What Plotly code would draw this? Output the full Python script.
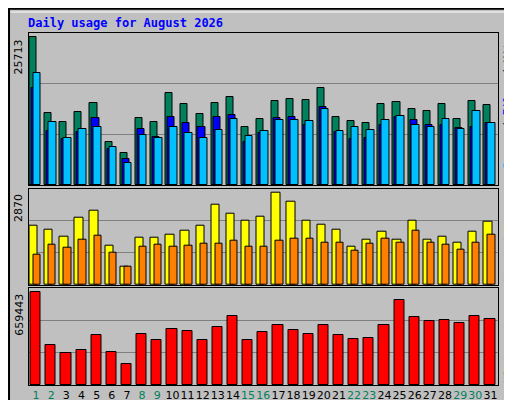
import plotly.graph_objects as go

days = list(range(1, 32))
hits = [25713,12624,11053,12798,14194,7562,5643,11751,11053,15939,14020,12449,14194,15241,10180,11576,
        14543,14892,14718,16812,11925,11227,10878,14020,14369,13321,12973,14020,11576,14543,13845]
files = [16869,9482,8086,9307,11751,6341,4596,9831,8435,11925,10878,10180,11925,12274,7562,9133,
         11751,11925,10529,13670,9307,8086,8260,10529,11925,11402,10529,10529,10006,10180,10878]
pages = [19430,11053,8260,9831,10180,6690,3898,8784,8260,10180,9133,8260,9656,11576,8609,9482,
         11402,11402,11227,13321,9482,10180,9656,11402,12100,10529,10180,11576,9831,12973,10878]
visits = [1841,1716,1498,2090,2309,1217,562,1466,1466,1560,1685,1841,2496,2215,1997,2122,
          2870,2590,1997,1872,1716,1186,1404,1654,1404,1997,1404,1498,1310,1654,1966]
sites = [936,1248,1154,1404,1529,998,562,1186,1248,1186,1217,1279,1279,1373,1186,1186,
         1373,1435,1435,1310,1310,1061,1279,1435,1310,1685,1310,1248,1092,1310,1560]
kbytes = [659443,282614,224642,246381,355079,231888,152177,362325,318846,398558,384065,318846,413051,492762,318846,376818,
          427544,391312,362325,427544,355079,326093,333339,427544,601470,485516,456530,463777,442037,492762,471023]
weekend = {1,2,8,9,15,16,22,23,29,30}
title = "Daily usage for August 2026"

FONT = "DejaVu Sans Mono"
GREEN, BLUE, CYAN = "#00805c", "#0000ff", "#00c0ff"
YEL, ORA, RED = "#ffff00", "#ff8000", "#ff0000"
BG = "#c0c0c0"

fig = go.Figure()
line = dict(color="black", width=1)

def bar(y, color, off, w, ax):
    fig.add_trace(go.Bar(x=days, y=y, marker=dict(color=color, line=line), offset=off, width=w,
                         xaxis="x" + ax, yaxis="y" + ax, showlegend=False, hoverinfo="skip"))

bar(hits, GREEN, -0.44, 0.47, "")
bar(files, BLUE, -0.31, 0.47, "")
bar(pages, CYAN, -0.18, 0.5, "")
bar(visits, YEL, -0.44, 0.55, "2")
bar(sites, ORA, -0.17, 0.48, "2")
bar(kbytes, RED, -0.36, 0.67, "3")

xd = [20.5/512, 490/512]
doms = [((400-177)/400, (400-25)/400), ((400-277)/400, (400-180.7)/400), ((400-377)/400, (400-280)/400)]
ratios = [455/442, 287/276, 285/273]
maxs = [max(hits), max(visits), max(kbytes)]
ticktext = [f'<span style="color:{GREEN if d in weekend else "black"}">{d}</span>' for d in days]

for i, suf in enumerate(["", "2", "3"]):
    top = maxs[i] * ratios[i]
    fig.layout["xaxis" + suf] = dict(domain=xd, range=[0.5, 31.5], anchor="y" + suf,
        showticklabels=(i == 2), tickvals=days, ticktext=ticktext, ticks="", tickangle=0,
        automargin=False, ticklabelstandoff=0,
        tickfont=dict(family="DejaVu Sans", size=11), showgrid=False, zeroline=False,
        showline=True, mirror=True, linecolor="black", linewidth=1)
    fig.layout["yaxis" + suf] = dict(domain=doms[i], range=[0, top], anchor="x" + suf,
        tickvals=[top/3, 2*top/3], showticklabels=False, ticks="", automargin=False,
        gridcolor="#808080", gridwidth=1, zeroline=False,
        showline=True, mirror=True, linecolor="black", linewidth=1)
    fig.add_annotation(x=-0.003, xref="x%s domain" % suf, y=maxs[i], yref="y" + suf,
        text=str(maxs[i]), textangle=-90, showarrow=False, xanchor="right", yanchor="top",
        font=dict(family="DejaVu Sans", size=11, color="black"))

def sp(t, c):
    return f'<span style="color:{c}">{t}</span>'

rlabels = [sp("Pages", CYAN) + " / " + sp("Files", BLUE) + " / " + sp("Hits", GREEN),
           sp("Sites", ORA) + " / " + sp("Visits", YEL),
           sp("KBytes", RED)]
for i, suf in enumerate(["", "2", "3"]):
    fig.add_annotation(x=1.003, xref="x%s domain" % suf, y=1 if i < 2 else 0, yref="y%s domain" % suf,
        text=rlabels[i], textangle=-90, showarrow=False, xanchor="left",
        yanchor="top" if i < 2 else "bottom",
        font=dict(family=FONT, size=11, color="black"))

fig.add_annotation(x=18/512, y=(400-15)/400, xref="paper", yref="paper", text="<b>" + title + "</b>",
                   showarrow=False, xanchor="left", yanchor="middle",
                   font=dict(family=FONT, size=12, color=BLUE))

fig.add_shape(type="rect", xref="paper", yref="paper", x0=0.002, y0=0.002, x1=0.998, y1=0.998,
              line=dict(color="black", width=2))
fig.add_shape(type="line", xref="paper", yref="paper", x0=0.005, y0=0.99, x1=0.99, y1=0.99,
              line=dict(color="white", width=1))
fig.add_shape(type="line", xref="paper", yref="paper", x0=0.99, y0=0.99, x1=0.99, y1=0.015,
              line=dict(color="#808080", width=2))
fig.add_shape(type="line", xref="paper", yref="paper", x0=0.005, y0=0.015, x1=0.99, y1=0.015,
              line=dict(color="#808080", width=2))

fig.update_layout(width=512, height=400, margin=dict(l=0, r=0, t=0, b=0),
                  paper_bgcolor=BG, plot_bgcolor=BG, barmode="overlay", bargap=0)
fig.write_html("out.html")
